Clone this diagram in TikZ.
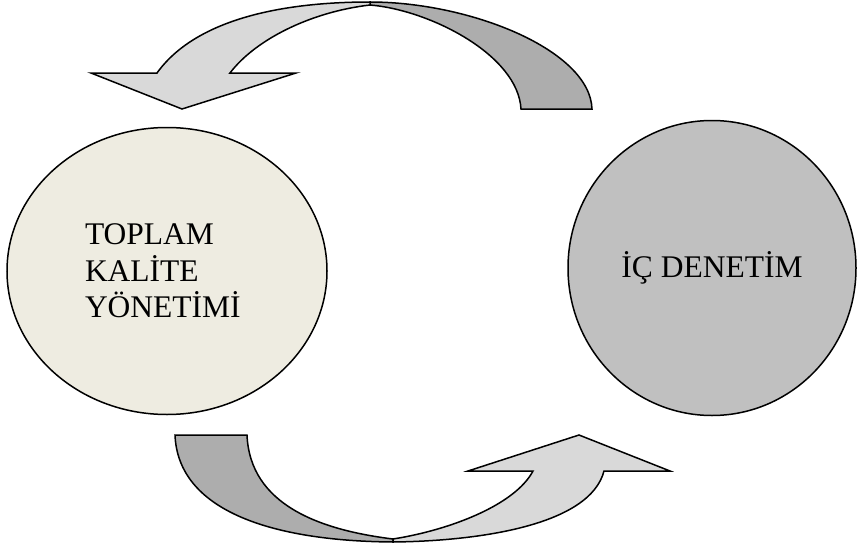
\documentclass[tikz,border=0pt]{standalone}
\usepackage{fontspec}
\setmainfont{Liberation Serif}
\usetikzlibrary{shapes.geometric}
\definecolor{kalite}{RGB}{238,236,225}
\definecolor{denetim}{RGB}{192,192,192}
\definecolor{acik}{RGB}{217,217,217}
\definecolor{koyu}{RGB}{173,173,173}
\begin{document}
\begin{tikzpicture}[x=1pt,y=-1pt,line width=1.5pt,
  daire/.style={draw,ellipse,inner sep=0pt,font=\fontsize{31.5}{36.5}\selectfont},
  acikok/.style={draw,fill=acik},
  koyuok/.style={draw,fill=koyu}]
\useasboundingbox (0,0) rectangle (857,546);
% ust ok
\draw[koyuok] (370,2) .. controls (470,2) and (590,50) .. (592,109) -- (521,109)
  .. controls (518,55) and (430,10) .. (370,5) -- cycle;
\draw[acikok] (91,73) -- (157,73) .. controls (195,20) and (280,2) .. (370,2) -- (370,5)
  .. controls (310,12) and (255,40) .. (230,73) -- (296,73) -- (182,109) -- cycle;
% alt ok
\draw[koyuok] (175,435) -- (247,435) .. controls (250,505) and (320,530) .. (393,539)
  -- (393,542) .. controls (270,541) and (178,510) .. (175,435) -- cycle;
\draw[acikok] (393,542) .. controls (480,541) and (590,525) .. (604,471) -- (670,471)
  -- (579,435) -- (468,471) -- (533,471) .. controls (515,505) and (450,530) .. (393,539) -- cycle;
% daireler
\node[daire,fill=kalite,minimum width=320pt,minimum height=287pt,text width=164pt,align=left]
  (tky) at (167,271) {TOPLAM\\KALİTE\\YÖNETİMİ};
\node[daire,fill=denetim,minimum width=288pt,minimum height=295pt]
  (icd) at (712,268) {İÇ DENETİM};
\end{tikzpicture}
\end{document}
